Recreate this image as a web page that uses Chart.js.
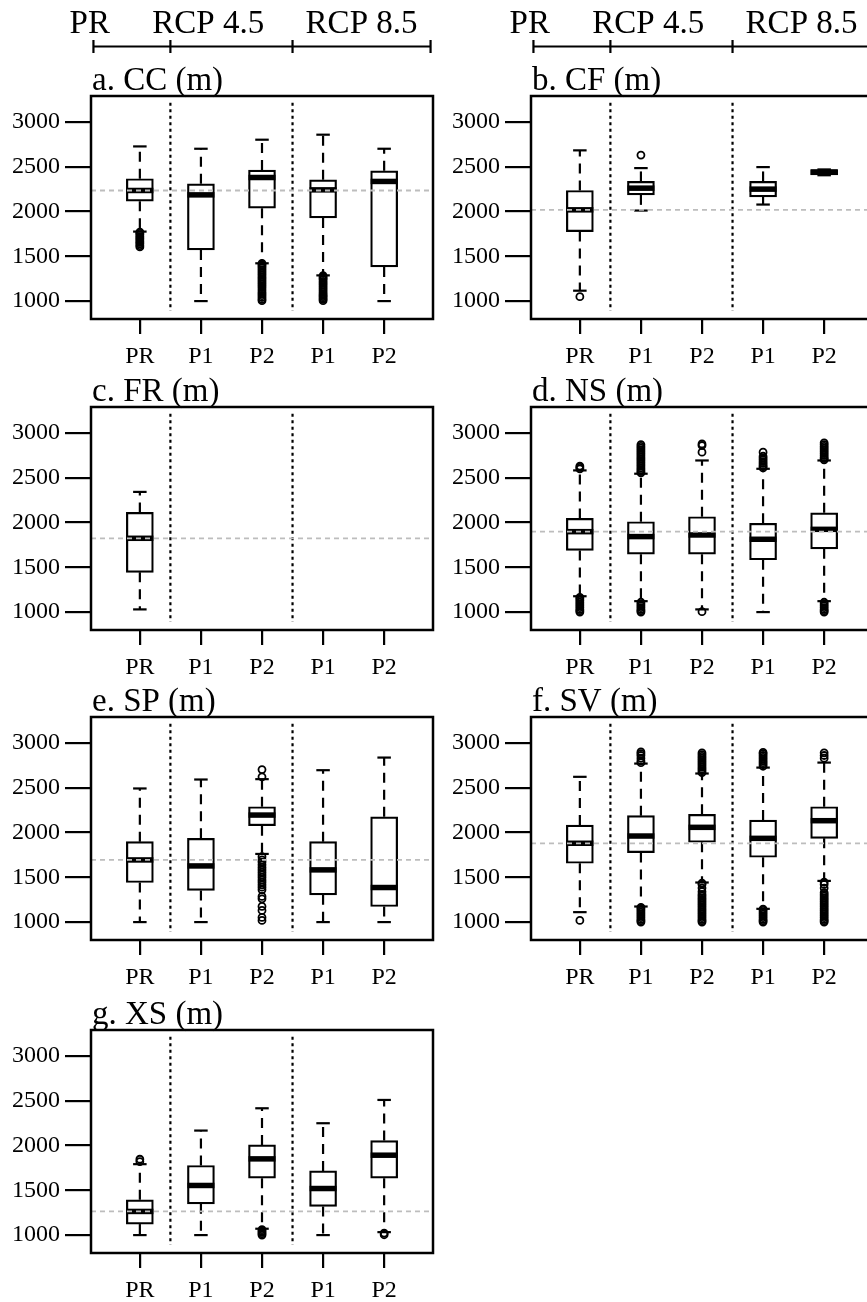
<!DOCTYPE html>
<html>
<head>
<meta charset="utf-8">
<script src="https://cdn.jsdelivr.net/npm/chart.js@4.4.1/dist/chart.umd.min.js"></script>
<style>
  html, body { margin: 0; padding: 0; background: #fff; overflow: hidden; width: 867px; height: 1302px; }
  canvas { position: absolute; }
</style>
</head>
<body>
<canvas id="cc" width="440" height="374" style="left:0;top:0"></canvas>
<canvas id="cf" width="440" height="374" style="left:440px;top:0"></canvas>
<canvas id="fr" width="440" height="374" style="left:0;top:311px"></canvas>
<canvas id="ns" width="440" height="374" style="left:440px;top:311px"></canvas>
<canvas id="sp" width="440" height="374" style="left:0;top:621px"></canvas>
<canvas id="sv" width="440" height="374" style="left:440px;top:621px"></canvas>
<canvas id="xs" width="440" height="374" style="left:0;top:934px"></canvas>
<script>
// --- Data ---
const groups = ['PR', 'P1', 'P2', 'P1', 'P2'];
const scenarioLabels = ['PR', 'RCP 4.5', 'RCP 8.5'];
const scenarioCenters = [0.18, 2.12, 4.63];
const bracketStops = [0.24, 1.5, 3.5, 5.76];
const yTicks = [1000, 1500, 2000, 2500, 3000];

// five-number summaries per group: [lower whisker, q1, median, q3, upper whisker]
const ccStats = [[1776, 2116, 2235, 2366, 2727], [1000, 1571, 2186, 2310, 2701], [1422, 2037, 2380, 2463, 2802], [1287, 1929, 2242, 2354, 2858], [1000, 1381, 2336, 2455, 2701]];
const ccOut = [
  [1605, 1620, 1640, 1655, 1670, 1690, 1705, 1720, 1740, 1755, 1770],
  [],
  [1005, 1020, 1040, 1060, 1080, 1100, 1125, 1150, 1170, 1190, 1210, 1230, 1250, 1270, 1290, 1310, 1330, 1350, 1370, 1390, 1405, 1420],
  [1005, 1020, 1035, 1050, 1065, 1080, 1100, 1120, 1140, 1160, 1180, 1200, 1220, 1240, 1255, 1270, 1285],
  []
];

const cfStats = [[1116, 1776, 2019, 2235, 2683], [2011, 2186, 2261, 2336, 2485], null, [2078, 2164, 2250, 2336, 2496], [2405, 2410, 2440, 2468, 2470]];
const cfOut = [[1049], [2630], [], [], []];

const frStats = [[1030, 1444, 1824, 2113, 2342], null, null, null, null];
const frOut = [[], [], [], [], []];

const nsStats = [[1177, 1688, 1898, 2046, 2582], [1122, 1647, 1843, 2009, 2545], [1030, 1647, 1861, 2065, 2693], [1000, 1584, 1813, 1991, 2600], [1122, 1706, 1924, 2109, 2693]];
const nsOut = [
  [2600, 2615, 2630, 1000, 1015, 1030, 1050, 1070, 1090, 1110, 1130, 1150, 1165],
  [2555, 2570, 2590, 2610, 2630, 2650, 2670, 2690, 2710, 2730, 2750, 2770, 2790, 2810, 2830, 2850, 2870, 1000, 1015, 1030, 1050, 1070, 1090, 1110],
  [2786, 2860, 2878, 1005],
  [2610, 2625, 2640, 2660, 2680, 2700, 2720, 2740, 2786],
  [2700, 2715, 2730, 2750, 2770, 2790, 2810, 2830, 2850, 2870, 2890, 1000, 1015, 1030, 1050, 1070, 1090, 1110]
];

const spStats = [[1000, 1442, 1694, 1898, 2492], [1000, 1353, 1627, 1935, 2592], [1761, 2076, 2195, 2288, 2596], [1000, 1304, 1583, 1898, 2696], [1000, 1174, 1386, 2176, 2837]];
const spOut = [
  [],
  [],
  [2622, 2703, 1730, 1694, 1670, 1640, 1610, 1583, 1555, 1527, 1500, 1471, 1445, 1416, 1390, 1360, 1286, 1260, 1175, 1130, 1052, 1019],
  [],
  []
];

const svStats = [[1111, 1657, 1880, 2084, 2622], [1174, 1776, 1961, 2188, 2770], [1442, 1891, 2058, 2203, 2659], [1148, 1724, 1935, 2139, 2725], [1460, 1935, 2132, 2288, 2781]];
const svOut = [
  [1019],
  [2780, 2800, 2830, 2860, 2880, 2900, 1000, 1015, 1030, 1050, 1070, 1090, 1110, 1130, 1150, 1165],
  [2670, 2690, 2710, 2730, 2750, 2770, 2790, 2810, 2830, 2850, 2870, 2890, 1000, 1015, 1030, 1050, 1070, 1090, 1110, 1130, 1150, 1170, 1190, 1210, 1230, 1250, 1270, 1290, 1310, 1340, 1380, 1420, 1435],
  [2740, 2760, 2780, 2800, 2820, 2840, 2860, 2880, 2895, 1000, 1015, 1030, 1050, 1070, 1090, 1110, 1130, 1145],
  [2830, 2860, 2890, 1000, 1015, 1030, 1050, 1070, 1090, 1110, 1130, 1150, 1170, 1190, 1210, 1230, 1250, 1270, 1290, 1310, 1330, 1380, 1420, 1445]
];

const xsStats = [[1000, 1123, 1264, 1394, 1792], [1000, 1349, 1554, 1777, 2167], [1071, 1636, 1851, 2007, 2416], [1000, 1320, 1520, 1717, 2249], [1033, 1636, 1892, 2056, 2509]];
const xsOut = [[1821, 1847], [], [1000, 1015, 1030, 1045, 1060], [], [1004, 1022]];

// --- Drawing helpers ---
Chart.defaults.font.family = '"Liberation Serif", "Times New Roman", serif';
Chart.defaults.color = '#000';

const BOX_W = 27;

const line = (ctx, x1, y1, x2, y2) => {
  ctx.beginPath();
  ctx.moveTo(x1, y1);
  ctx.lineTo(x2, y2);
  ctx.stroke();
};

const boxParts = {
  id: 'boxParts',
  beforeDatasetsDraw(chart, args, opts) {
    const { ctx, scales: { x, y } } = chart;
    ctx.save();
    ctx.strokeStyle = '#000';
    ctx.lineWidth = 2.2;

    // dotted scenario separators
    ctx.setLineDash([3, 3.5]);
    [1.5, 3.5].forEach(v => {
      const px = x.getPixelForValue(v);
      line(ctx, px, y.getPixelForValue(3215), px, y.getPixelForValue(890));
    });

    // dashed whiskers
    ctx.setLineDash([10, 7]);
    opts.stats.forEach((s, i) => {
      if (!s) return;
      const px = x.getPixelForValue(i + 1);
      if (s[4] > s[3]) line(ctx, px, y.getPixelForValue(s[3]), px, y.getPixelForValue(s[4]));
      if (s[0] < s[1]) line(ctx, px, y.getPixelForValue(s[1]), px, y.getPixelForValue(s[0]));
    });

    // whisker caps
    ctx.setLineDash([]);
    opts.stats.forEach((s, i) => {
      if (!s) return;
      const px = x.getPixelForValue(i + 1);
      [s[0], s[4]].forEach(v => line(ctx, px - BOX_W / 4, y.getPixelForValue(v), px + BOX_W / 4, y.getPixelForValue(v)));
    });
    ctx.restore();
  },
  afterDatasetsDraw(chart, args, opts) {
    const { ctx, chartArea: a, scales: { x, y } } = chart;
    ctx.save();

    // medians
    ctx.strokeStyle = '#000';
    ctx.lineWidth = 5.5;
    opts.stats.forEach((s, i) => {
      if (!s) return;
      const px = x.getPixelForValue(i + 1);
      line(ctx, px - BOX_W / 2, y.getPixelForValue(s[2]), px + BOX_W / 2, y.getPixelForValue(s[2]));
    });

    // reference line at PR median
    ctx.strokeStyle = '#bdbdbd';
    ctx.lineWidth = 1.8;
    ctx.setLineDash([5, 4]);
    const ry = y.getPixelForValue(opts.stats[0][2]);
    line(ctx, a.left, ry, a.right, ry);
    ctx.setLineDash([]);

    // frame
    ctx.strokeStyle = '#000';
    ctx.lineWidth = 2.5;
    ctx.strokeRect(a.left, a.top, a.right - a.left, a.bottom - a.top);

    // panel title
    ctx.fillStyle = '#000';
    ctx.font = '33px "Liberation Serif"';
    ctx.textAlign = 'left';
    ctx.textBaseline = 'alphabetic';
    ctx.fillText(opts.title, a.left + 1, a.top - 6);

    // scenario header
    if (opts.header) {
      ctx.lineWidth = 2.2;
      ctx.textAlign = 'center';
      scenarioLabels.forEach((t, i) => ctx.fillText(t, x.getPixelForValue(scenarioCenters[i]), 33));
      const hy = 46.5;
      line(ctx, x.getPixelForValue(bracketStops[0]), hy, x.getPixelForValue(bracketStops[bracketStops.length - 1]), hy);
      bracketStops.forEach(v => {
        const px = x.getPixelForValue(v);
        line(ctx, px, hy - 6.5, px, hy + 6.5);
      });
    }
    ctx.restore();
  }
};

const makePanel = (id, title, stats, outliers, header) => {
  const boxes = stats.map((s, i) => (s ? { x: i + 1, y: [s[1], s[3]] } : null)).filter(Boolean);
  const points = outliers.flatMap((arr, i) => arr.map(v => ({ x: i + 1, y: v })));

  new Chart(document.getElementById(id), {
    type: 'bar',
    data: {
      datasets: [
        {
          type: 'scatter',
          data: points,
          pointRadius: 3.5,
          pointBorderWidth: 1.8,
          pointBorderColor: '#000',
          pointBackgroundColor: 'rgba(0,0,0,0)',
        },
        {
          data: boxes,
          barThickness: BOX_W,
          backgroundColor: '#fff',
          borderColor: '#000',
          borderWidth: 2.2,
          borderSkipped: false,
        },
      ],
    },
    options: {
      responsive: false,
      animation: false,
      devicePixelRatio: 1,
      layout: { padding: { top: 96, right: 7, left: 0, bottom: 0 } },
      plugins: {
        legend: { display: false },
        tooltip: { enabled: false },
        boxParts: { stats, title, header },
      },
      scales: {
        x: {
          type: 'linear',
          min: 0.2,
          max: 5.8,
          offset: false,
          afterBuildTicks: s => { s.ticks = groups.map((g, i) => ({ value: i + 1 })); },
          afterFit: s => { s.height = 55; },
          ticks: {
            callback: v => groups[Math.round(v) - 1],
            font: { size: 24 },
            color: '#000',
            padding: 8,
            maxRotation: 0,
            autoSkip: false,
          },
          grid: { drawOnChartArea: false, drawTicks: true, tickLength: 15, color: '#000', lineWidth: 2.2, offset: false },
          border: { display: false },
        },
        y: {
          type: 'linear',
          min: 800,
          max: 3290,
          afterBuildTicks: s => { s.ticks = yTicks.map(v => ({ value: v })); },
          afterFit: s => { s.width = 91; },
          ticks: { font: { size: 24 }, color: '#000', padding: 5, callback: v => String(v) },
          grid: { drawOnChartArea: false, drawTicks: true, tickLength: 26, color: '#000', lineWidth: 2.2 },
          border: { display: false },
        },
      },
    },
    plugins: [boxParts],
  });
};

makePanel('cc', 'a. CC (m)', ccStats, ccOut, true);
makePanel('cf', 'b. CF (m)', cfStats, cfOut, true);
makePanel('fr', 'c. FR (m)', frStats, frOut, false);
makePanel('ns', 'd. NS (m)', nsStats, nsOut, false);
makePanel('sp', 'e. SP (m)', spStats, spOut, false);
makePanel('sv', 'f. SV (m)', svStats, svOut, false);
makePanel('xs', 'g. XS (m)', xsStats, xsOut, false);
</script>
</body>
</html>
